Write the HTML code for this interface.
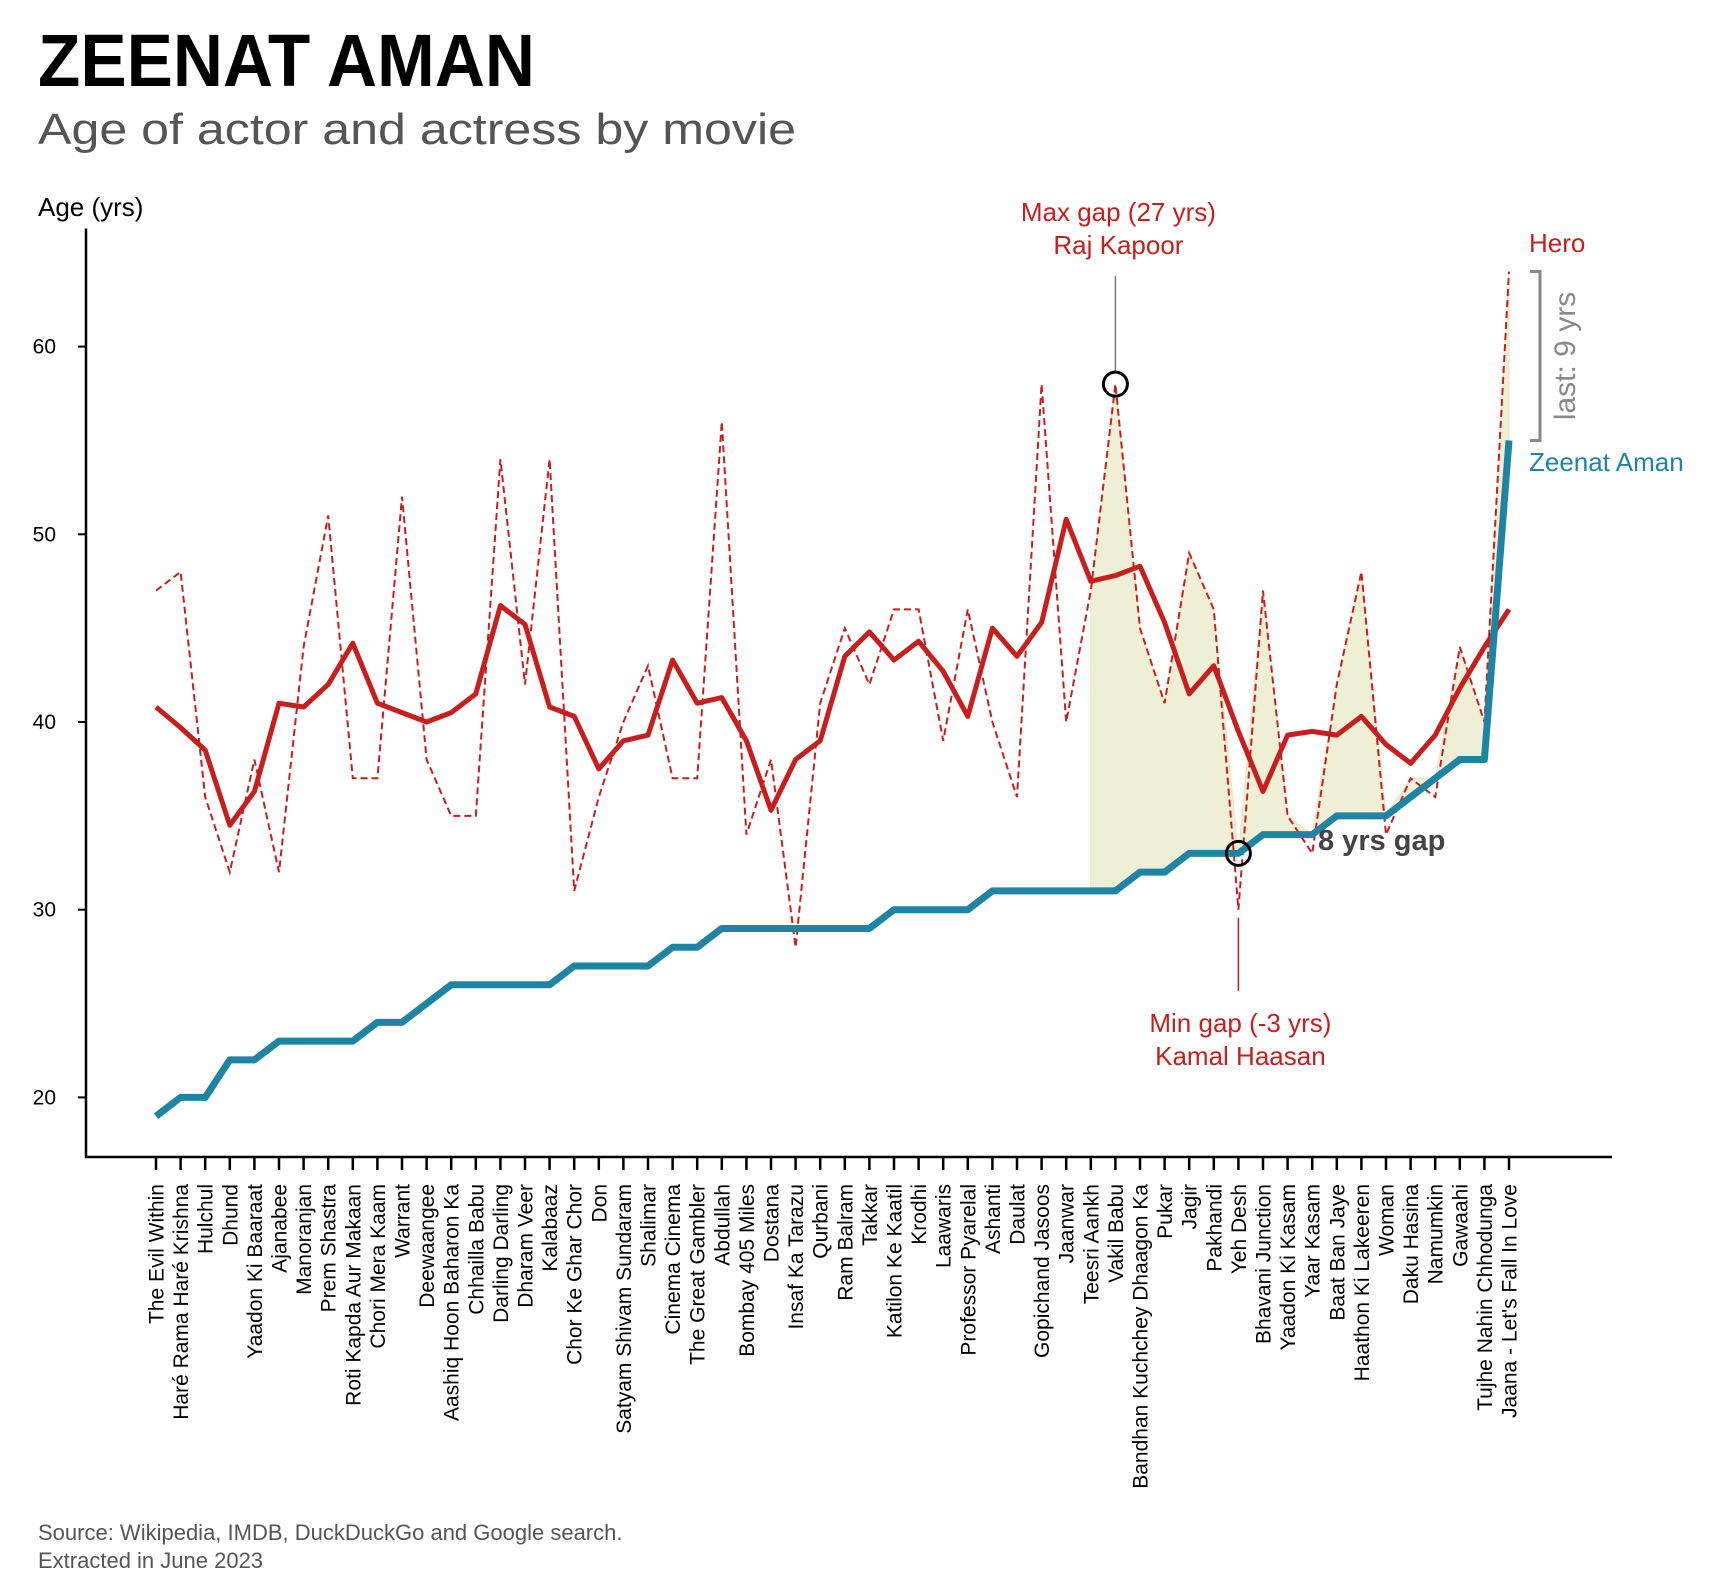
<!DOCTYPE html>
<html><head><meta charset="utf-8"><style>
html,body{margin:0;padding:0;background:#fff}
svg{display:block;font-family:"Liberation Sans",sans-serif}
</style></head><body>
<svg id="chart" width="1722" height="1595" viewBox="0 0 1722 1595" xmlns="http://www.w3.org/2000/svg">
<text x="38" y="86" font-size="74" font-weight="bold" fill="#000" textLength="497" lengthAdjust="spacingAndGlyphs">ZEENAT AMAN</text>
<text x="38" y="144" font-size="44" fill="#555" textLength="758" lengthAdjust="spacingAndGlyphs">Age of actor and actress by movie</text>
<text x="38" y="216" font-size="26" fill="#000">Age (yrs)</text>
<g id="plot"></g>
<text x="38" y="1540" font-size="22" fill="#555">Source: Wikipedia, IMDB, DuckDuckGo and Google search.</text>
<text x="38" y="1568" font-size="22" fill="#555">Extracted in June 2023</text>
</svg>
<script>
const movies = ["The Evil Within","Haré Rama Haré Krishna","Hulchul","Dhund","Yaadon Ki Baaraat","Ajanabee","Manoranjan","Prem Shastra","Roti Kapda Aur Makaan","Chori Mera Kaam","Warrant","Deewaangee","Aashiq Hoon Baharon Ka","Chhailla Babu","Darling Darling","Dharam Veer","Kalabaaz","Chor Ke Ghar Chor","Don","Satyam Shivam Sundaram","Shalimar","Cinema Cinema","The Great Gambler","Abdullah","Bombay 405 Miles","Dostana","Insaf Ka Tarazu","Qurbani","Ram Balram","Takkar","Katilon Ke Kaatil","Krodhi","Laawaris","Professor Pyarelal","Ashanti","Daulat","Gopichand Jasoos","Jaanwar","Teesri Aankh","Vakil Babu","Bandhan Kuchchey Dhaagon Ka","Pukar","Jagir","Pakhandi","Yeh Desh","Bhavani Junction","Yaadon Ki Kasam","Yaar Kasam","Baat Ban Jaye","Haathon Ki Lakeeren","Woman","Daku Hasina","Namumkin","Gawaahi","Tujhe Nahin Chhodunga","Jaana - Let's Fall In Love"];
const actressAge = [19,20,20,22,22,23,23,23,23,24,24,25,26,26,26,26,26,27,27,27,27,28,28,29,29,29,29,29,29,29,30,30,30,30,31,31,31,31,31,31,32,32,33,33,33,34,34,34,35,35,35,36,37,38,38,55];
const heroAge = [47,48,36,32,38,32,44,51,37,37,52,38,35,35,54,42,54,31,36,40,43,37,37,56,34,38,28,41,45,42,46,46,39,46,40,36,58,40,47,58,45,41,49,46,30,47,35,33,42,48,34,37,36,44,40,64];
const heroRolling = [40.8,39.7,38.5,34.5,36.3,41,40.8,42,44.2,41,40.5,40,40.5,41.5,46.2,45.2,40.8,40.3,37.5,39,39.3,43.3,41,41.3,39,35.3,38,39,43.5,44.8,43.3,44.3,42.7,40.3,45,43.5,45.3,50.8,47.5,47.8,48.3,45.3,41.5,43,39.5,36.3,39.3,39.5,39.3,40.3,38.8,37.8,39.3,41.8,44,46];
const yTicks = [20,30,40,50,60];
const fillStart = 38;
const maxGapMovie = "Vakil Babu";
const minGapMovie = "Yeh Desh";

const NS = "http://www.w3.org/2000/svg";
const plot = document.getElementById('plot');
function X(i){ return 156 + i*24.6; }
function Y(v){ return 346.6 + (60 - v)*18.77; }
function mk(tag, attrs, parent){
  const e = document.createElementNS(NS, tag);
  for (const k in attrs) e.setAttribute(k, attrs[k]);
  (parent||plot).appendChild(e);
  return e;
}
let topPts = [], botPts = [];
for (let i = fillStart; i < movies.length; i++){
  topPts.push(X(i)+','+Y(Math.max(heroAge[i], actressAge[i])));
  botPts.unshift(X(i)+','+Y(actressAge[i]));
}
const fillPoly = mk('polygon', {points: topPts.concat(botPts).join(' '), fill:'#efefd5', stroke:'#e6e6c0', 'stroke-width':1});



const ax = mk('path', {d:'M86,228.5 V1157 H1612', fill:'none', stroke:'#000', 'stroke-width':2.5});


yTicks.forEach(t => {
  const tk = mk('line', {x1:78, x2:86, y1:Y(t), y2:Y(t), stroke:'#000', 'stroke-width':2});
  
  
  const tl = mk('text', {x:56, y:Y(t)+7, 'font-size':21, 'text-anchor':'end', fill:'#000'});
  tl.textContent = t;
  
  
});
movies.forEach((m, i) => {
  const tk = mk('line', {x1:X(i), x2:X(i), y1:1157, y2:1170, stroke:'#000', 'stroke-width':2.5});
  
  
  const tl = mk('text', {transform:'translate('+(X(i)+7.5)+',1184) rotate(-90)', 'font-size':21, 'text-anchor':'end', fill:'#000'});
  tl.textContent = m;
  
  
});
function pts(arr){ return arr.map((v,i)=>X(i)+','+Y(v)).join(' '); }
const hd = mk('polyline', {points:pts(heroAge), fill:'none', stroke:'#c81e1e', 'stroke-width':2, 'stroke-dasharray':'7,4'});


const hr = mk('polyline', {points:pts(heroRolling), fill:'none', stroke:'#c81e1e', 'stroke-width':5, 'stroke-linejoin':'round'});


const al = mk('polyline', {points:pts(actressAge), fill:'none', stroke:'#1f84a4', 'stroke-width':7, 'stroke-linejoin':'round'});



const iMax = movies.indexOf(maxGapMovie);
const iMin = movies.indexOf(minGapMovie);
const l1 = mk('line', {x1:X(iMax), x2:X(iMax), y1:276, y2:Y(heroAge[iMax])-13, stroke:'#777', 'stroke-width':1.5});


const c1 = mk('circle', {cx:X(iMax), cy:Y(heroAge[iMax]), r:12, fill:'none', stroke:'#000', 'stroke-width':3});


const t1 = mk('text', {x:X(iMax)+3, y:221, 'font-size':26, fill:'#c81e1e', 'text-anchor':'middle'});
t1.textContent = 'Max gap (' + (heroAge[iMax]-actressAge[iMax]) + ' yrs)';


const t1b = mk('text', {x:X(iMax)+3, y:254, 'font-size':26, fill:'#c81e1e', 'text-anchor':'middle'});
t1b.textContent = 'Raj Kapoor';



const l2 = mk('line', {x1:X(iMin), x2:X(iMin), y1:Y(heroAge[iMin])+8, y2:991, stroke:'#c81e1e', 'stroke-width':1.5});


const c2 = mk('circle', {cx:X(iMin), cy:Y(actressAge[iMin]), r:12, fill:'none', stroke:'#000', 'stroke-width':3});


const t2 = mk('text', {x:X(iMin)+2, y:1032, 'font-size':26, fill:'#c81e1e', 'text-anchor':'middle'});
t2.textContent = 'Min gap (' + (heroAge[iMin]-actressAge[iMin]) + ' yrs)';


const t2b = mk('text', {x:X(iMin)+2, y:1065, 'font-size':26, fill:'#c81e1e', 'text-anchor':'middle'});
t2b.textContent = 'Kamal Haasan';



const t3 = mk('text', {x:1318, y:850, 'font-size':29, 'font-weight':'bold', fill:'#444'});
t3.textContent = '8 yrs gap';



const n = movies.length-1;
const br = mk('path', {d:'M1530,'+Y(heroAge[n])+' H1540 V'+Y(actressAge[n])+' H1530', fill:'none', stroke:'#888', 'stroke-width':3});


const t4 = mk('text', {transform:'translate(1575,'+((Y(heroAge[n])+Y(actressAge[n]))/2)+') rotate(-90)', 'font-size':30, fill:'#888', 'text-anchor':'middle'});
t4.textContent = 'last: ' + (heroAge[n]-actressAge[n]) + ' yrs';


const t5 = mk('text', {x:1529, y:252, 'font-size':26, fill:'#c81e1e'});
t5.textContent = 'Hero';


const t6 = mk('text', {x:1529, y:471, 'font-size':26, fill:'#1f84a4'});
t6.textContent = 'Zeenat Aman';


</script>
</body></html>
